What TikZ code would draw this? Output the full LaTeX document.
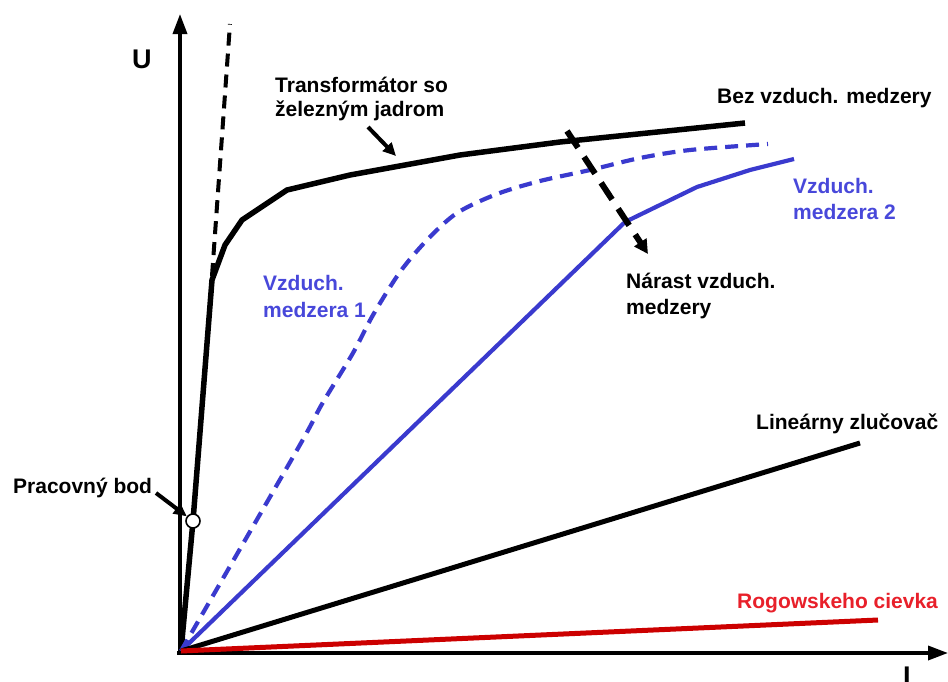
\documentclass[tikz,border=0pt]{standalone}
\usepackage{fontspec}
\setmainfont{Liberation Sans}
\usetikzlibrary{arrows.meta}
\definecolor{gapblue}{RGB}{58,58,206}
\definecolor{gaptext}{RGB}{72,72,218}
\definecolor{rogred}{RGB}{204,0,0}
\definecolor{rogtext}{RGB}{232,32,42}
\tikzset{
  lbl/.style={anchor=base west,inner sep=0pt,font=\fontsize{21}{25}\selectfont\bfseries},
  axisline/.style={line width=3.5pt,-{Triangle[length=20pt,width=14pt]}},
  curveblack/.style={line width=5.5pt,line join=round},
  curveblue/.style={line width=4.2pt,gapblue,line join=round},
  pointer/.style={line width=4pt,-{Triangle[length=13pt,width=12pt]}},
}
\begin{document}
\begin{tikzpicture}[x=1pt,y=-1pt]
\useasboundingbox (0,0) rectangle (948,681);
% named points
\coordinate (O) at (181,651);
\coordinate (ytop) at (180,14);
\coordinate (ybot) at (180,655);
\coordinate (xl) at (177,653);
\coordinate (xr) at (948,653);
% axes
\draw[axisline] (ybot) -- (ytop);
\draw[axisline] (xl) -- (xr);
\node[lbl,font=\fontsize{27}{30}\selectfont\bfseries] (U) at (132,68) {U};
\node[lbl,font=\fontsize{27}{30}\selectfont\bfseries] (I) at (903,685) {I};
% dashed initial tangent
\coordinate (t1) at (212,276);
\coordinate (t2) at (230,24);
\draw[line width=4pt,dash pattern=on 13pt off 8pt] (t1) -- (t2);
% iron core transformer curve
\draw[curveblack] (O) -- (193,521) -- (212,280) -- (225,245) -- (242,220) -- (287,190) -- (350,175) -- (460,155) -- (560,142) -- (745,123);
% air gap 1 (dashed blue)
\draw[curveblue,dash pattern=on 13pt off 8pt] plot[smooth,tension=0.5] coordinates {(181,651) (297,450) (322,404) (353,353) (373,315) (400,272) (427,240) (457,213) (497,194) (540,181) (590,170) (640,158) (690,150) (768,144)};
% air gap 2 (solid blue)
\draw[curveblue] (O) -- (625,222) -- (697,187) -- (750,170) -- (794,159);
% linear coupler
\coordinate (lin) at (860,443);
\draw[line width=5pt] (O) -- (lin);
% Rogowski
\coordinate (rog) at (878,620);
\draw[line width=5pt,rogred] (O) -- (rog);
% working point
\node[circle,draw=black,line width=1.6pt,fill=white,minimum size=14pt,inner sep=0pt] (pb) at (193,521) {};
\coordinate (pbs) at (156,493);
\draw[pointer] (pbs) -- (pb);
% transformer pointer
\coordinate (tfs) at (368,127);
\coordinate (tfe) at (396,156);
\draw[pointer] (tfs) -- (tfe);
% increase of air gap
\coordinate (ns) at (567,131);
\coordinate (ne) at (648,254);
\draw[line width=6pt,dash pattern=on 20pt off 11pt,-{Triangle[length=14pt,width=14pt]}] (ns) -- (ne);
% labels
\node[lbl] (tr1) at (275,92) {Transformátor so};
\node[lbl] (tr2) at (275,116) {železným jadrom};
\node[lbl] (bez) at (717,103) {Bez vzduch. medzery};
\node[lbl,text=gaptext] (g2a) at (793,193) {Vzduch.};
\node[lbl,text=gaptext] (g2b) at (793,219) {medzera 2};
\node[lbl,text=gaptext] (g1a) at (263,290) {Vzduch.};
\node[lbl,text=gaptext] (g1b) at (263,317) {medzera 1};
\node[lbl] (na1) at (626,288) {Nárast vzduch.};
\node[lbl] (na2) at (626,314) {medzery};
\node[lbl] (pbl) at (13,493) {Pracovný bod};
\node[lbl] (linl) at (756,429) {Lineárny zlučovač};
\node[lbl,text=rogtext] (rogl) at (737,608) {Rogowskeho cievka};
\end{tikzpicture}
\end{document}
